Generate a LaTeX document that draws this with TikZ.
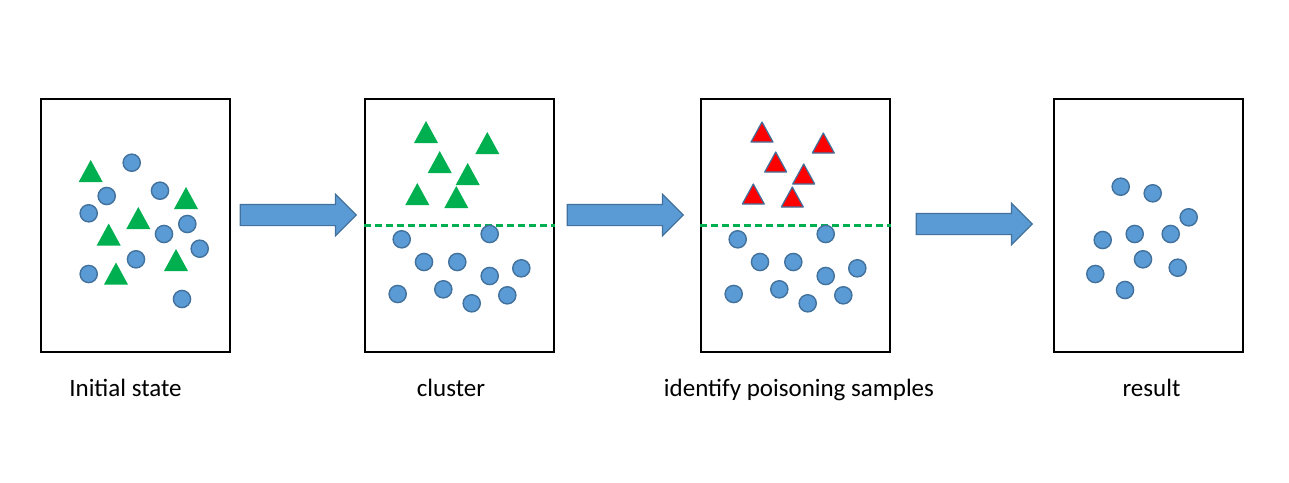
\documentclass[tikz,border=0pt]{standalone}
\usepackage{fontspec}
\setmainfont{Carlito}
\usetikzlibrary{shapes.arrows}

\definecolor{dotblue}{HTML}{5B9BD5}
\definecolor{edgeblue}{HTML}{41719C}
\definecolor{triGreen}{HTML}{00B050}

\tikzset{
	panel/.style={draw, line width=2pt, minimum width=189pt, minimum height=253pt, inner sep=0pt},
	dot/.style={fill=dotblue, draw=edgeblue, line width=1.4pt},
	greentri/.style={fill=triGreen},
	redtri/.style={fill=red, draw=edgeblue, line width=1.2pt, line join=round},
	blockarrow/.style={single arrow, fill=dotblue, draw=edgeblue, line width=1.2pt, inner sep=0pt,
		text height=10pt, text depth=10pt, minimum height=116pt, single arrow head extend=10pt, anchor=tip},
	caption/.style={anchor=base, font=\fontsize{25}{30}\selectfont},
	splitline/.style={draw=triGreen, line width=3pt, dash pattern=on 7pt off 4pt}
}

\begin{document}
\begin{tikzpicture}[x=1pt,y=-1pt]
				\useasboundingbox (0,0) rectangle (1289,482);
				% the four stages
				\node[panel] (init) at (135.5,225.5) {};
				\node[panel] (clus) at (459.5,225.5) {};
				\node[panel] (iden) at (795.5,225.5) {};
				\node[panel] (res) at (1148.5,225.5) {};
				\node[caption] (initlab) at (125.5,396) {Initial state};
				\node[caption] (cluslab) at (451,396) {cluster};
				\node[caption] (idenlab) at (799,396) {identify poisoning samples};
				\node[caption] (reslab) at (1151.5,396) {result};
				% arrows
				\node[blockarrow] (arrA) at (357,215) {};
				\node[blockarrow] (arrB) at (684,215) {};
				\node[blockarrow] (arrC) at (1033,224) {};
				% initial state
				\foreach \x/\y in {131.7/162.7, 106.7/196, 88.7/213.3, 160/190.7, 187.3/224, 164/234, 199.7/248.7, 136/259.3, 88.7/274, 182/299}
					\draw[dot] (\x,\y) circle (8.6);
				\foreach \x/\y in {90.7/171, 186/198, 138.3/218, 108.7/234.5, 116/273.5, 176/260}
					\fill[greentri] (\x-12,\y+11) -- (\x,\y-11) -- (\x+12,\y+11) -- cycle;
				% cluster
				\coordinate (clusW) at (clus.west |- 0,225.5);
				\coordinate (clusE) at (clus.east |- 0,225.5);
				\draw[splitline] (clusW) -- (clusE);
				\foreach \x/\y in {401.7/239.3, 489.7/234, 424/262, 457.3/262, 489.7/276, 521.3/268.3, 397.7/294, 443.3/289.3, 471.7/303.3, 507.3/295.3}
					\draw[dot] (\x,\y) circle (8.6);
				\foreach \x/\y in {426/132, 487.3/143, 439.7/162, 467.7/174, 417.3/194, 456.3/197}
					\fill[greentri] (\x-12,\y+11) -- (\x,\y-11) -- (\x+12,\y+11) -- cycle;
				% identify poisoning samples
				\coordinate (idenW) at (iden.west |- 0,225.5);
				\coordinate (idenE) at (iden.east |- 0,225.5);
				\draw[splitline] (idenW) -- (idenE);
				\foreach \x/\y in {737.7/239.3, 825.7/234, 760/262, 793.3/262, 825.7/276, 857.3/268.3, 733.7/294, 779.3/289.3, 807.7/303.3, 843.3/295.3}
					\draw[dot] (\x,\y) circle (8.6);
				\foreach \x/\y in {762/132, 823.3/143, 775.7/162, 803.7/174, 753.3/194, 792.3/197}
					\draw[redtri] (\x-11,\y+10) -- (\x,\y-10) -- (\x+11,\y+10) -- cycle;
				% result
				\foreach \x/\y in {1120.7/186.7, 1152.7/193.3, 1188.7/217.3, 1134.7/234, 1170.7/234, 1102.7/240, 1143/259.3, 1177.7/267.7, 1095.3/274, 1125/290}
					\draw[dot] (\x,\y) circle (8.6);
\end{tikzpicture}
\end{document}
